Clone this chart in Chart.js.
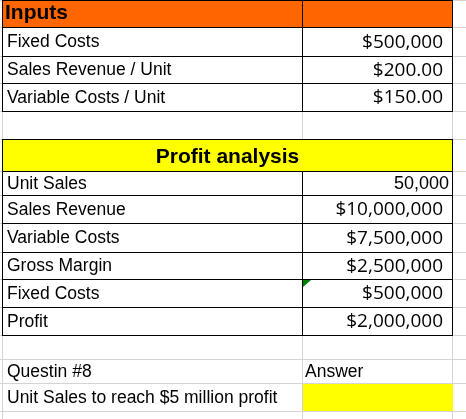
<!DOCTYPE html>
<html><head><meta charset="utf-8">
<script src="https://cdn.jsdelivr.net/npm/chart.js@4"></script>
<style>html,body{margin:0;padding:0;background:#fff}</style>
</head><body>
<canvas id="c" width="466" height="419"></canvas>
<script>
const labels = ["Inputs","Fixed Costs","Sales Revenue / Unit","Variable Costs / Unit","","Profit analysis","Unit Sales","Sales Revenue","Variable Costs","Gross Margin","Fixed Costs","Profit","","Questin #8","Unit Sales to reach $5 million profit"];
const values = ["","$500,000","$200.00","$150.00","","","50,000","$10,000,000","$7,500,000","$2,500,000","$500,000","$2,000,000","","Answer",""];
const rowLines = [0,27,56,83,111,139,171,195,223,252,279,307,335,359,383,411];
const styles = ["orange","box","box","box","empty","yellow","box","box","box","box","box","box","empty","plain","answer"];
const X0=3, X1=302, X2=452;
const tablePlugin = {id:'table', afterDraw(chart){
  const ctx=chart.ctx;
  ctx.save();
  ctx.fillStyle='#fff';ctx.fillRect(0,0,466,419);
  ctx.strokeStyle='#d4d4d4';ctx.lineWidth=1;
  for(const y of rowLines){ctx.beginPath();ctx.moveTo(0,y+0.5);ctx.lineTo(466,y+0.5);ctx.stroke();}
  ctx.beginPath();ctx.moveTo(X0-0.5,0);ctx.lineTo(X0-0.5,419);ctx.stroke();
  ctx.beginPath();ctx.moveTo(X1+0.5,0);ctx.lineTo(X1+0.5,419);ctx.stroke();
  ctx.beginPath();ctx.moveTo(X2+0.5,0);ctx.lineTo(X2+0.5,419);ctx.stroke();
  for(let i=0;i<labels.length;i++){
    const y0=rowLines[i], y1=rowLines[i+1], s=styles[i], mid=(y0+y1)/2+1;
    if(s==='orange'){ctx.fillStyle='#ff6600';ctx.fillRect(X0,y0,X2-X0,y1-y0);}
    if(s==='yellow'){ctx.fillStyle='#ffff00';ctx.fillRect(X0,y0,X2-X0,y1-y0);}
    if(s==='answer'){ctx.fillStyle='#ffff00';ctx.fillRect(X1+1,y0+1,X2-X1,y1-y0-1);}
    ctx.fillStyle='#000';ctx.textBaseline='middle';
    if(s==='orange'){ctx.font='bold 21px "Liberation Sans"';ctx.textAlign='left';ctx.fillText(labels[i],X0+2,y0+13);}
    else if(s==='yellow'){ctx.font='bold 21px "Liberation Sans"';ctx.textAlign='center';ctx.fillText(labels[i],(X0+X2)/2,mid+1);}
    else {
      ctx.font='17.5px "Liberation Sans"';ctx.textAlign='left';ctx.fillText(labels[i],X0+4,mid);
      if(s==='plain'){ctx.fillText(values[i],X1+3,mid);}
      else if(values[i]){
        const num=values[i].indexOf('$')<0;
        ctx.font=num?'18px "Liberation Sans"':'19px "Open Sans"';
        ctx.textAlign='right';ctx.fillText(values[i],num?X2-3:X2-9,mid);
      }
    }
    if(s==='orange'||s==='yellow'||s==='box'){
      ctx.strokeStyle='#000';ctx.lineWidth=1;
      ctx.strokeRect(X0-0.5,y0+0.5,X2-X0+1,y1-y0);
      if(s!=='yellow'){ctx.beginPath();ctx.moveTo(X1+0.5,y0);ctx.lineTo(X1+0.5,y1);ctx.stroke();}
    }
  }
  ctx.fillStyle='#008000';ctx.beginPath();ctx.moveTo(X1+1,rowLines[10]+1);ctx.lineTo(X1+9,rowLines[10]+1);ctx.lineTo(X1+1,rowLines[10]+8);ctx.fill();
  ctx.restore();
}};
new Chart(document.getElementById('c'),{type:'bar',data:{labels:labels,datasets:[{data:[]}]},
 options:{responsive:false,animation:false,plugins:{legend:{display:false},tooltip:{enabled:false}},scales:{x:{display:false},y:{display:false}}},
 plugins:[tablePlugin]});
</script>
</body></html>
